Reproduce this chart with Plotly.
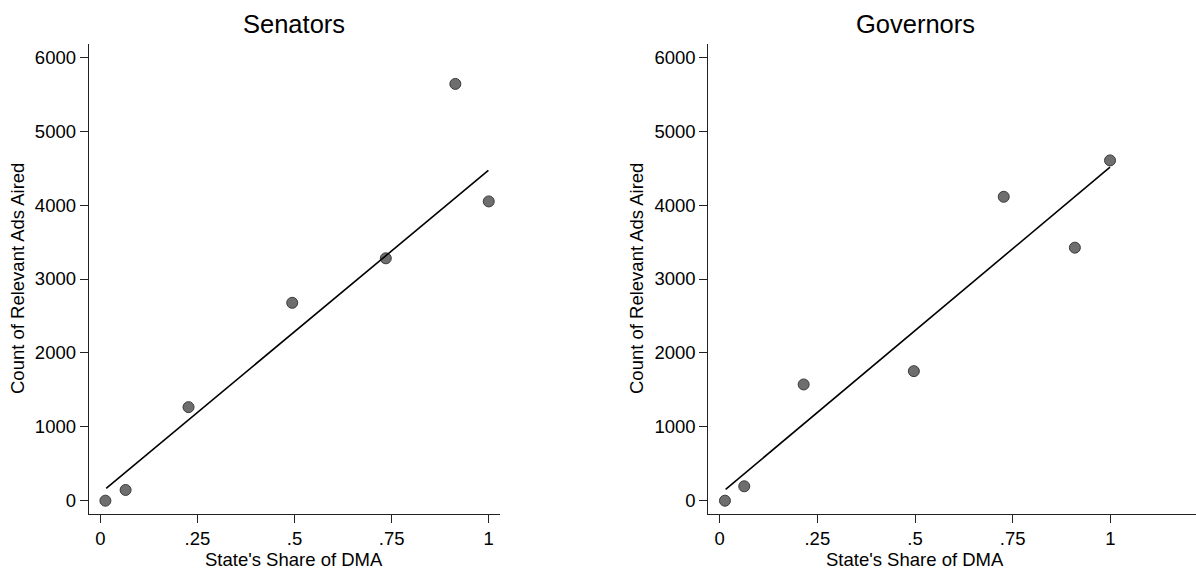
import plotly.graph_objects as go

# Data
sen_share = [0.013, 0.065, 0.227, 0.494, 0.735, 0.914, 1.0]
sen_ads = [0, 145, 1266, 2678, 3280, 5640, 4050]
sen_fit_x = [0.015, 0.999]
sen_fit_y = [167, 4469]

gov_share = [0.0136, 0.063, 0.215, 0.497, 0.727, 0.909, 0.999]
gov_ads = [0, 195, 1573, 1753, 4113, 3424, 4605]
gov_fit_x = [0.0154, 0.999]
gov_fit_y = [154, 4514]

x_ticks = [0, 0.25, 0.5, 0.75, 1]
x_tick_labels = ["0", ".25", ".5", ".75", "1"]
y_ticks = [0, 1000, 2000, 3000, 4000, 5000, 6000]
y_tick_labels = ["0", "1000", "2000", "3000", "4000", "5000", "6000"]

FONT = "Liberation Sans, Arial, Helvetica, sans-serif"
W, H = 1196, 575

marker = dict(size=11, color="#6e6e6e", line=dict(color="#3a3a3a", width=1))
fitline = dict(color="black", width=1.6)

fig = go.Figure()
fig.add_trace(go.Scatter(x=sen_share, y=sen_ads, mode="markers", marker=marker,
                         xaxis="x", yaxis="y", showlegend=False))
fig.add_trace(go.Scatter(x=sen_fit_x, y=sen_fit_y, mode="lines", line=fitline,
                         xaxis="x", yaxis="y", showlegend=False))
fig.add_trace(go.Scatter(x=gov_share, y=gov_ads, mode="markers", marker=marker,
                         xaxis="x2", yaxis="y2", showlegend=False))
fig.add_trace(go.Scatter(x=gov_fit_x, y=gov_fit_y, mode="lines", line=fitline,
                         xaxis="x2", yaxis="y2", showlegend=False))

ydom = [1 - 514 / H, 1 - 44.3 / H]
axis_common = dict(showgrid=False, zeroline=False, showline=True, linecolor="#222",
                   linewidth=1, ticks="outside", ticklen=8, tickcolor="#222",
                   tickwidth=1, tickfont=dict(family=FONT, size=18.5, color="black"))

xaxis_common = dict(axis_common, tickvals=x_ticks, ticktext=x_tick_labels)
yaxis_common = dict(axis_common, tickvals=y_ticks, ticktext=y_tick_labels,
                    range=[-180, 6176])

fig.update_layout(
    width=W, height=H,
    margin=dict(l=0, r=0, t=0, b=0),
    paper_bgcolor="white", plot_bgcolor="white",
    xaxis=dict(xaxis_common, domain=[88.7 / W, 500 / W], range=[-0.03, 1.029],
               anchor="y"),
    yaxis=dict(yaxis_common, domain=ydom, anchor="x"),
    xaxis2=dict(xaxis_common, domain=[708.3 / W, 1.0], range=[-0.029, 1.219],
                anchor="y2"),
    yaxis2=dict(yaxis_common, domain=ydom, anchor="x2"),
)

def ann(text, x, y, size, angle=0):
    fig.add_annotation(text=text, x=x / W, y=1 - y / H, xref="paper", yref="paper",
                       showarrow=False, xanchor="center", yanchor="middle",
                       textangle=angle, font=dict(family=FONT, size=size, color="black"))

ann("Senators", 294.4, 24, 25.5)
ann("Governors", 915, 24, 25.5)
ann("State's Share of DMA", 294.4, 559, 18.5)
ann("State's Share of DMA", 915, 559, 18.5)
ann("Count of Relevant Ads Aired", 17, 279, 18.5, -90)
ann("Count of Relevant Ads Aired", 636, 279, 18.5, -90)

fig.write_html(
    "out.html",
    config={"displayModeBar": False},
    post_script="document.body.style.margin='0';document.body.style.overflow='hidden';",
)
